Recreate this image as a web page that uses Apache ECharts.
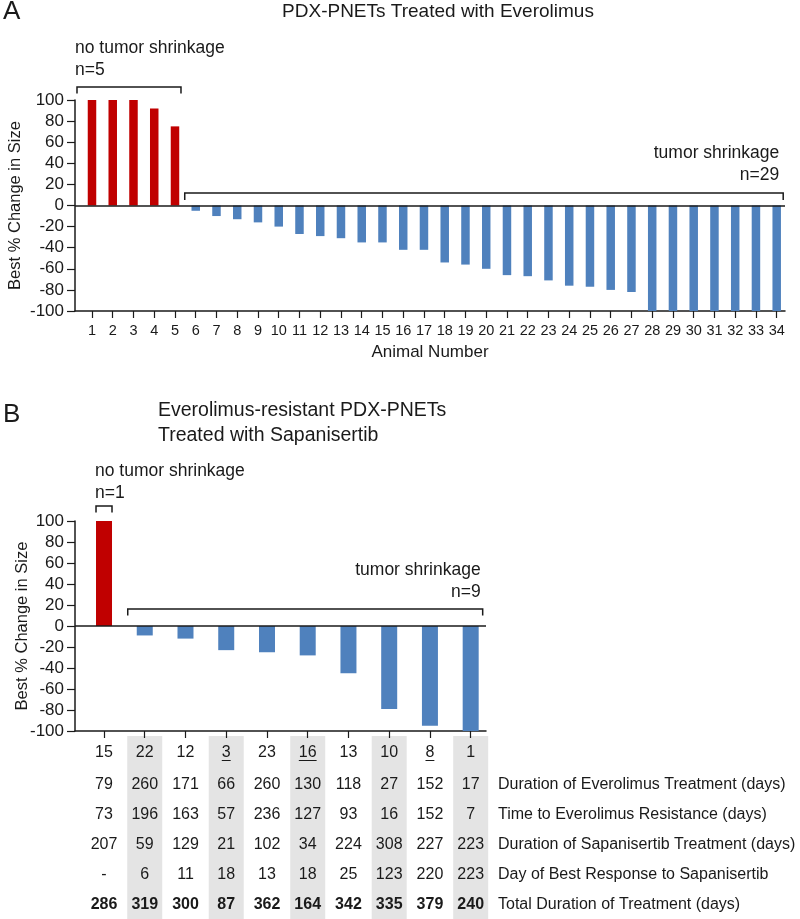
<!DOCTYPE html>
<html><head><meta charset="utf-8">
<script src="https://cdn.jsdelivr.net/npm/echarts@6/dist/echarts.min.js"></script>
<style>html,body{margin:0;padding:0;background:#fff}#c{width:800px;height:919px}</style>
</head><body><div id="c"></div>
<script>
// ---------- DATA ----------
const titleA = 'PDX-PNETs Treated with Everolimus';
const titleB = ['Everolimus-resistant PDX-PNETs', 'Treated with Sapanisertib'];
const yAxisName = 'Best % Change in Size';
const xAxisNameA = 'Animal Number';
const yTicks = [-100, -80, -60, -40, -20, 0, 20, 40, 60, 80, 100];

const animalNumbersA = ['1','2','3','4','5','6','7','8','9','10','11','12','13','14','15','16','17','18','19','20','21','22','23','24','25','26','27','28','29','30','31','32','33','34'];
const changeA = [100, 100, 100, 92, 75, -5, -10, -13, -16, -20, -27, -29, -31, -35, -35, -42, -42, -54, -56, -60, -66, -67, -71, -76, -77, -80, -82, -100, -100, -100, -100, -100, -100, -100];
const noShrinkCountA = 5;   // n=5
const shrinkCountA = 29;    // n=29

const idsB = ['15','22','12','3','23','16','13','10','8','1'];
const underlinedIdsB = ['3','16','8'];
const changeB = [100, -9, -12, -23, -25, -28, -45, -79, -95, -100];
const noShrinkCountB = 1;  // n=1
const shrinkCountB = 9;    // n=9

const rowLabelsB = [
  'Duration of Everolimus Treatment (days)',
  'Time to Everolimus Resistance (days)',
  'Duration of Sapanisertib Treatment (days)',
  'Day of Best Response to Sapanisertib',
  'Total Duration of Treatment (days)'
];
const everolimusDuration = ['79','260','171','66','260','130','118','27','152','17'];
const timeToResistance   = ['73','196','163','57','236','127','93','16','152','7'];
const sapanisertibDuration = ['207','59','129','21','102','34','224','308','227','223'];
const dayOfBestResponse  = ['-','6','11','18','13','18','25','123','220','223'];
const totalDuration      = ['286','319','300','87','362','164','342','335','379','240'];
const tableRowsB = [everolimusDuration, timeToResistance, sapanisertibDuration, dayOfBestResponse, totalDuration];

// ---------- STYLE ----------
const RED = '#c00000', BLUE = '#4f81bd', INK = '#1a1a1a', SHADE = '#e4e4e4';
const FONT = '"Liberation Sans", Arial, sans-serif';

const chart = echarts.init(document.getElementById('c'), null, {renderer: 'canvas'});

const posA = animalNumbersA.map((_, i) => i + 1);
const posB = idsB.map((_, i) => i + 1);

function yAxisCfg(gridIndex, gap) {
  return {
    type: 'value', gridIndex, min: yTicks[0], max: yTicks[yTicks.length - 1], interval: 20,
    name: yAxisName, nameLocation: 'middle', nameGap: gap, nameRotate: 90, nameMoveOverlap: false,
    nameTextStyle: {fontSize: 16.5, color: INK, fontFamily: FONT},
    axisLine: {show: true, lineStyle: {color: INK, width: 1.5}},
    axisTick: {show: true, length: 8, lineStyle: {color: INK, width: 1.2}},
    axisLabel: {fontSize: 17, color: INK, margin: 11, fontFamily: FONT},
    splitLine: {show: false}
  };
}

const option = {
  animation: false,
  textStyle: {fontFamily: FONT},
  grid: [
    {left: 75, top: 100, width: 710, height: 211, containLabel: false, outerBoundsMode: 'none'},
    {left: 75, top: 521, width: 411, height: 210, containLabel: false, outerBoundsMode: 'none'}
  ],
  xAxis: [
    {
      type: 'value', gridIndex: 0, min: 0.181, max: 34.4,
      name: xAxisNameA, nameLocation: 'middle', nameGap: 33, nameMoveOverlap: false,
      nameTextStyle: {fontSize: 17, color: INK, fontFamily: FONT},
      axisLine: {show: true, onZero: false, lineStyle: {color: INK, width: 1.5}},
      axisTick: {show: true, length: 7, customValues: posA, lineStyle: {color: INK, width: 1.2}},
      axisLabel: {fontSize: 14.5, color: INK, margin: 12, customValues: posA, fontFamily: FONT,
        formatter: v => animalNumbersA[Math.round(v) - 1]},
      splitLine: {show: false}
    },
    {
      type: 'value', gridIndex: 1, min: 0.288, max: 10.376,
      axisLine: {show: true, onZero: false, lineStyle: {color: INK, width: 1.5}},
      axisTick: {show: true, length: 7, customValues: posB, lineStyle: {color: INK, width: 1.2}},
      axisLabel: {fontSize: 16, color: INK, margin: 14, customValues: posB, fontFamily: FONT,
        formatter: v => idsB[Math.round(v) - 1]},
      splitLine: {show: false}
    }
  ],
  yAxis: [yAxisCfg(0, 51), yAxisCfg(1, 44)],
  series: [
    {
      type: 'bar', xAxisIndex: 0, yAxisIndex: 0, barWidth: 8.5,
      data: changeA.map((v, i) => ({value: [posA[i], v], itemStyle: {color: i < noShrinkCountA ? RED : BLUE}})),
      markLine: {silent: true, symbol: 'none', label: {show: false},
        lineStyle: {color: INK, width: 1.5, type: 'solid'}, data: [{yAxis: 0}]}
    },
    {
      type: 'bar', xAxisIndex: 1, yAxisIndex: 1, barWidth: 16,
      data: changeB.map((v, i) => ({value: [posB[i], v], itemStyle: {color: i < noShrinkCountB ? RED : BLUE}})),
      markLine: {silent: true, symbol: 'none', label: {show: false},
        lineStyle: {color: INK, width: 1.5, type: 'solid'}, data: [{yAxis: 0}]}
    }
  ]
};
chart.setOption(option);

// ---------- annotations computed from the axes ----------
const P = (gi, x, y) => chart.convertToPixel({gridIndex: gi}, [x, y]);
const g = [];
const ANN = '17.5px ' + FONT;
function txt(x, y, s, opts) {
  g.push({type: 'text', z: 100, style: Object.assign({x, y, text: s, fill: INK,
    font: ANN, textAlign: 'left', textVerticalAlign: 'middle'}, opts || {})});
}
function bracket(x1, x2, y, h) {
  g.push({type: 'polyline', z: 100, shape: {points: [[x1, y + h], [x1, y], [x2, y], [x2, y + h]]},
    style: {stroke: INK, lineWidth: 1.5, fill: null}});
}

// Panel labels & titles
txt(3, 12, 'A', {font: '26px ' + FONT});
txt(3, 415, 'B', {font: '26px ' + FONT});
const a0 = P(0, 0.181, 100), a1 = P(0, 34.4, 100);
txt((a0[0] + a1[0]) / 2 + 8, 12, titleA, {font: '19px ' + FONT, textAlign: 'center'});
txt(158, 411, titleB[0], {font: '19.5px ' + FONT});
txt(158, 436, titleB[1], {font: '19.5px ' + FONT});

// Panel A brackets
{
  const top = P(0, 1, 100)[1];
  const zero = P(0, 1, 0)[1];
  const l1 = P(0, 1, 0)[0] - 15, r1 = P(0, noShrinkCountA, 0)[0] + 6;
  bracket(l1, r1, top - 13, 6.5);
  txt(l1 - 2, top - 52, 'no tumor shrinkage');
  txt(l1 - 2, top - 30, 'n=' + noShrinkCountA);
  const l2 = P(0, noShrinkCountA + 1, 0)[0] - 11, r2 = P(0, noShrinkCountA + shrinkCountA, 0)[0] + 6.5;
  bracket(l2, r2, zero - 12.5, 7);
  txt(r2 - 4, zero - 52, 'tumor shrinkage', {textAlign: 'right'});
  txt(r2 - 4, zero - 30, 'n=' + shrinkCountA, {textAlign: 'right'});
}
// Panel B brackets
{
  const top = P(1, 1, 100)[1];
  const zero = P(1, 1, 0)[1];
  const c1 = P(1, 1, 0)[0];
  bracket(c1 - 8, c1 + 8, top - 15, 6.5);
  txt(c1 - 9, top - 50, 'no tumor shrinkage');
  txt(c1 - 9, top - 28, 'n=' + noShrinkCountB);
  const l2 = P(1, noShrinkCountB + 1, 0)[0] - 17, r2 = P(1, noShrinkCountB + shrinkCountB, 0)[0] + 12;
  bracket(l2, r2, zero - 17, 6.5);
  txt(r2 - 2, zero - 56, 'tumor shrinkage', {textAlign: 'right'});
  txt(r2 - 2, zero - 34, 'n=' + shrinkCountB, {textAlign: 'right'});
}

// Panel B table
{
  const axisY = P(1, 1, -100)[1];
  const rowY0 = axisY + 54, rowStep = 29.8;
  const measure = document.createElement('canvas').getContext('2d');
  measure.font = '16px "Liberation Sans", Arial';
  posB.forEach((p, i) => {
    const cx = P(1, p, 0)[0];
    if (i % 2 === 1) {
      g.push({type: 'rect', z: -10, shape: {x: cx - 17.5, y: axisY + 5, width: 35, height: 919 - axisY - 5},
        style: {fill: SHADE}});
    }
    if (underlinedIdsB.indexOf(idsB[i]) >= 0) {
      const w = measure.measureText(idsB[i]).width;
      g.push({type: 'line', z: 100, shape: {x1: cx - w / 2, y1: axisY + 29.5, x2: cx + w / 2, y2: axisY + 29.5},
        style: {stroke: INK, lineWidth: 1}});
    }
    tableRowsB.forEach((row, r) => {
      txt(cx, rowY0 + r * rowStep, row[i], {textAlign: 'center',
        font: (r === tableRowsB.length - 1 ? 'bold ' : '') + '16px ' + FONT});
    });
  });
  const labelX = P(1, 10.376, 0)[0] + 12;
  rowLabelsB.forEach((s, r) => txt(labelX, rowY0 + r * rowStep, s, {font: '16px ' + FONT}));
}

chart.setOption({graphic: {elements: g}});
</script>
</body></html>
